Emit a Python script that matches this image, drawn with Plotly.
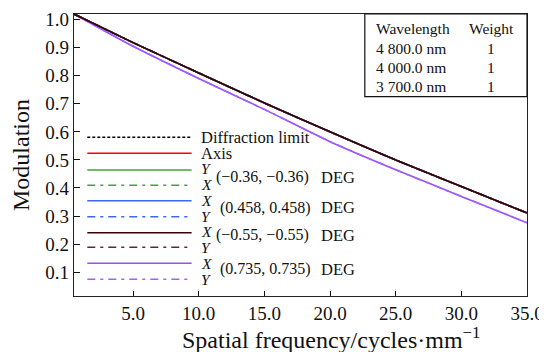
import plotly.graph_objects as go

# ---------------- data ----------------
freq = [0.5, 5, 10, 15, 20, 25, 30, 35]
diffraction_limit = [1.02, 0.918, 0.81, 0.703, 0.600, 0.500, 0.405, 0.311]
axis_mtf = [1.02, 0.918, 0.81, 0.703, 0.600, 0.500, 0.405, 0.311]
f036_y = [1.02, 0.918, 0.81, 0.703, 0.600, 0.500, 0.405, 0.311]
f036_x = [1.02, 0.918, 0.81, 0.703, 0.600, 0.500, 0.405, 0.311]
f0458_x = [1.02, 0.918, 0.81, 0.703, 0.600, 0.500, 0.405, 0.311]
f0458_y = [1.02, 0.918, 0.81, 0.703, 0.600, 0.500, 0.405, 0.311]
f055_x = [1.02, 0.918, 0.81, 0.703, 0.600, 0.500, 0.405, 0.311]
f055_y = [1.02, 0.918, 0.81, 0.703, 0.600, 0.500, 0.405, 0.311]
f0735_x = [1.02, 0.905, 0.79, 0.680, 0.565, 0.465, 0.370, 0.276]
f0735_y = [1.02, 0.905, 0.79, 0.680, 0.565, 0.465, 0.370, 0.276]

x_ticks = [5, 10, 15, 20, 25, 30, 35]
y_ticks = [0.1, 0.2, 0.3, 0.4, 0.5, 0.6, 0.7, 0.8, 0.9, 1.0]

wavelengths = ["4 800.0 nm", "4 000.0 nm", "3 700.0 nm"]
weights = ["1", "1", "1"]

FONT = "Liberation Serif"

DASHDOT = "8px,5px,3px,5px"
series = [
    (diffraction_limit, "#000000", "3px,2px"),
    (axis_mtf, "#ff0000", "solid"),
    (f036_y, "#3fa33a", "solid"),
    (f036_x, "#3fa33a", DASHDOT),
    (f0458_x, "#3a68f0", "solid"),
    (f0458_y, "#3a68f0", DASHDOT),
    (f0735_x, "#9a4dff", "solid"),
    (f0735_y, "#a062ff", DASHDOT),
    (f055_y, "#5a2a2a", DASHDOT),
    (f055_x, "#380000", "solid"),
]

fig = go.Figure()
for vals, col, dash in series:
    fig.add_trace(go.Scatter(x=freq, y=vals, mode="lines",
                             line=dict(color=col, width=1.6, dash=dash, shape="spline", smoothing=0.6),
                             showlegend=False, hoverinfo="skip"))

# page geometry: the page body has an 8px margin, so the figure is shrunk by it
PAGE_W, PAGE_H, OFF = 547, 352, 8
W, H = PAGE_W - OFF, PAGE_H - OFF
# plot-area edges in page pixels
L, R, T, B = 74, 527.3, 14, 296


def px(xp):
    return (xp - L) / (R - L)


def py(yp):
    return (B - yp) / (B - T)


shapes = []
annotations = []

# custom legend
leg_x0, leg_x1 = 87.3, 191.7
legend_lines = [
    (137.3, "#000000", "3px,2px"),
    (153.3, "#ff0000", "solid"),
    (170.0, "#3fa33a", "solid"),
    (185.3, "#3fa33a", DASHDOT),
    (200.7, "#3a68f0", "solid"),
    (216.7, "#3a68f0", DASHDOT),
    (232.7, "#380000", "solid"),
    (247.3, "#5a2a2a", DASHDOT),
    (263.3, "#9a4dff", "solid"),
    (279.3, "#a062ff", DASHDOT),
]
for yy, col, dash in legend_lines:
    shapes.append(dict(type="line", xref="paper", yref="paper",
                       x0=px(leg_x0), x1=px(leg_x1), y0=py(yy), y1=py(yy),
                       line=dict(color=col, width=1.6, dash=dash)))


def txt(x, y, s, size=16, anchor="left"):
    annotations.append(dict(x=px(x), y=py(y), xref="paper", yref="paper",
                            text=s, showarrow=False, xanchor=anchor, yanchor="middle",
                            borderpad=0, font=dict(family=FONT, size=size, color="#111111")))


txt(200, 137, "Diffraction limit", size=16.5)
txt(200, 153, "Axis", size=16.5)
# field labels
txt(200.5, 168, "<i>Y</i>", size=15.5)
txt(200.5, 184.5, "<i>X</i>", size=15.5)
txt(215, 177, "(−0.36, −0.36)")
txt(200.5, 200, "<i>X</i>", size=15.5)
txt(200.5, 216.5, "<i>Y</i>", size=15.5)
txt(219, 207.5, "(0.458, 0.458)")
txt(200.5, 231.5, "<i>X</i>", size=15.5)
txt(200.5, 247, "<i>Y</i>", size=15.5)
txt(215, 235, "(−0.55, −0.55)")
txt(200.5, 263, "<i>X</i>", size=15.5)
txt(200.5, 279.5, "<i>Y</i>", size=15.5)
txt(219, 269, "(0.735, 0.735)")
for yy in (177, 207.5, 235, 269):
    txt(320, yy, "DEG", size=16.5)

# info box
shapes.append(dict(type="rect", xref="paper", yref="paper",
                   x0=px(365), x1=px(R), y0=py(96.7), y1=py(T),
                   line=dict(color="#111111", width=1.2), fillcolor="white"))
txt(375, 28.5, "Wavelength", size=15.5)
txt(491.5, 28.5, "Weight", size=15.5, anchor="center")
for i, (wl, wt) in enumerate(zip(wavelengths, weights)):
    yy = 48.3 + i * 19.2
    txt(375, yy, wl, size=15.5)
    txt(491.5, yy, wt, size=15.5, anchor="center")

# x-axis title (placed off-centre as in the reference)
txt(331, 338, "Spatial frequency/cycles·mm<sup>−1</sup>", size=24, anchor="center")

fig.update_layout(
    width=W, height=H,
    margin=dict(l=L - OFF, r=PAGE_W - R, t=T - OFF, b=PAGE_H - B),
    paper_bgcolor="white", plot_bgcolor="white",
    shapes=shapes, annotations=annotations,
    font=dict(family=FONT, color="#111111"),
    xaxis=dict(range=[0.5, 35], tickvals=x_ticks, ticktext=[f"{v:.1f}" for v in x_ticks],
               ticks="inside", ticklen=5, tickcolor="#111111", showgrid=False, zeroline=False,
               showline=True, linecolor="#222222", linewidth=1.3, mirror=True,
               automargin=False,
               tickfont=dict(family=FONT, size=19)),
    yaxis=dict(range=[0.015, 1.02], tickvals=y_ticks, ticktext=[f"{v:.1f}" for v in y_ticks],
               ticks="inside", ticklen=6, tickcolor="#111111", showgrid=False, zeroline=False,
               showline=True, linecolor="#222222", linewidth=1.3, mirror=True,
               automargin=False,
               tickfont=dict(family=FONT, size=19),
               title=dict(text="Modulation", standoff=10, font=dict(family=FONT, size=24))),
)

fig.write_html("out.html")
